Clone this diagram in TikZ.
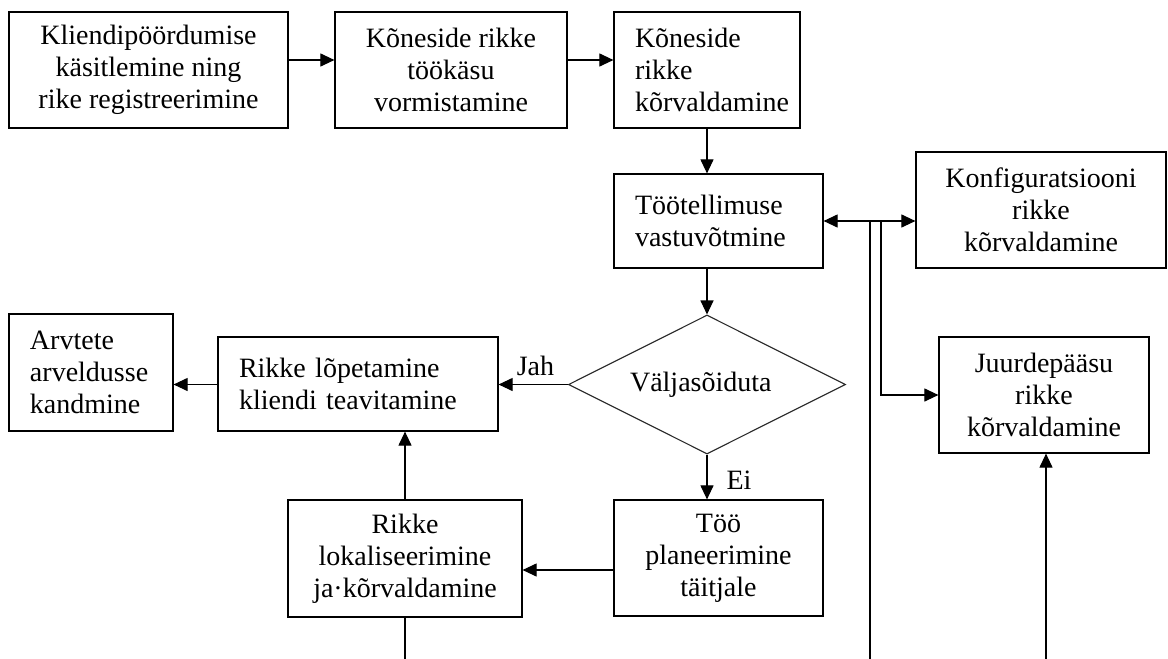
\documentclass[tikz,border=0pt]{standalone}
\usepackage{fontspec}
\setmainfont{Liberation Serif}
\usetikzlibrary{arrows.meta,shapes.geometric}
\tikzset{
  txt/.style={font=\fontsize{28pt}{32pt}\selectfont},
  cbox/.style={txt,draw,line width=1.2pt,align=center,inner sep=0pt},
  lbox/.style={txt,draw,line width=1.2pt,align=left,inner xsep=21pt,inner ysep=0pt},
  dec/.style={txt,draw=black!85,line width=1.1pt,diamond,aspect=2,inner sep=0pt,minimum width=277pt,minimum height=139pt},
  conn/.style={line width=1.1pt,-{Triangle[length=14pt,width=13pt]}},
  both/.style={line width=1.1pt,{Triangle[length=14pt,width=13pt]}-{Triangle[length=14pt,width=13pt]}},
  plain/.style={line width=1.1pt},
  lbl/.style={txt,inner sep=0pt,anchor=base}
}
\begin{document}
\begin{tikzpicture}[x=1pt,y=-1pt]
\useasboundingbox[fill=white] (0,0) rectangle (1168,659);
% top row
\node[cbox,minimum width=279pt,minimum height=116pt] (b1) at (148.5,70) {Kliendipöördumise\\käsitlemine ning\\rike registreerimine};
\node[cbox,minimum width=232pt,minimum height=116pt] (b2) at (451,70) {Kõneside rikke\\töökäsu\\vormistamine};
\node[lbox,text width=144pt,minimum height=116pt] (b3) at (707,70) {Kõneside\\rikke\\kõrvaldamine};
% second row
\node[lbox,text width=167pt,minimum height=94pt] (b4) at (718.5,221) {Töötellimuse\\vastuvõtmine};
\node[cbox,minimum width=250pt,minimum height=116pt] (b5) at (1041,210) {Konfiguratsiooni\\rikke\\kõrvaldamine};
% decision row
\node[dec] (d) at (707,384.5) {\hspace*{-12.4pt}Väljasõiduta};
\node[lbox,text width=238pt,minimum height=94pt] (rl) at (358,384) {Rikke lõpetamine\\kliendi teavitamine};
\node[lbox,text width=122pt,minimum height=117pt] (arv) at (91,372.5) {Arvtete\\arveldusse\\kandmine};
\node[cbox,minimum width=210pt,minimum height=116pt] (b6) at (1044,395) {Juurdepääsu\\rikke\\kõrvaldamine};
% bottom row
\node[cbox,minimum width=209pt,minimum height=116pt] (too) at (718.5,558) {Töö\\planeerimine\\täitjale};
\node[cbox,minimum width=234pt,minimum height=117pt] (rloc) at (405,558.5) {Rikke\\lokaliseerimine\\ja·kõrvaldamine};
% labels
\node[lbl] (jah) at (535.5,375) {Jah};
\node[lbl] (ei) at (739,489) {Ei};
% free ends
\coordinate (j1) at (870,221);
\coordinate (j2) at (881,221);
\coordinate (e1) at (870,659);
\coordinate (e2) at (1046,659);
\coordinate (e3) at (405,659);
% connectors
\draw[conn] ([yshift=10pt]b1.east) -- ([yshift=10pt]b1.east -| b2.west);
\draw[conn] ([yshift=10pt]b2.east) -- ([yshift=10pt]b2.east -| b3.west);
\draw[conn] (b3.south) -- (b3.south |- b4.north);
\draw[conn] (d.north |- b4.south) -- (d.north);
\draw[both] (b4.east) -- (b4.east -| b5.west);
\draw[plain] (j1) -- (e1);
\draw[conn] (j2) |- (b6.west);
\draw[conn] (e2) -- (e2 |- b6.south);
\draw[conn] (d.west) -- (d.west -| rl.east);
\draw[conn] (rl.west |- d.west) -- (rl.west |- d.west -| arv.east);
\draw[conn] (d.south) -- (d.south |- too.north);
\draw[conn] ([yshift=-12pt]too.west) -- ([yshift=-12pt]too.west -| rloc.east);
\draw[conn] (rloc.north) -- (rloc.north |- rl.south);
\draw[plain] (rloc.south) -- (e3);
\end{tikzpicture}
\end{document}
